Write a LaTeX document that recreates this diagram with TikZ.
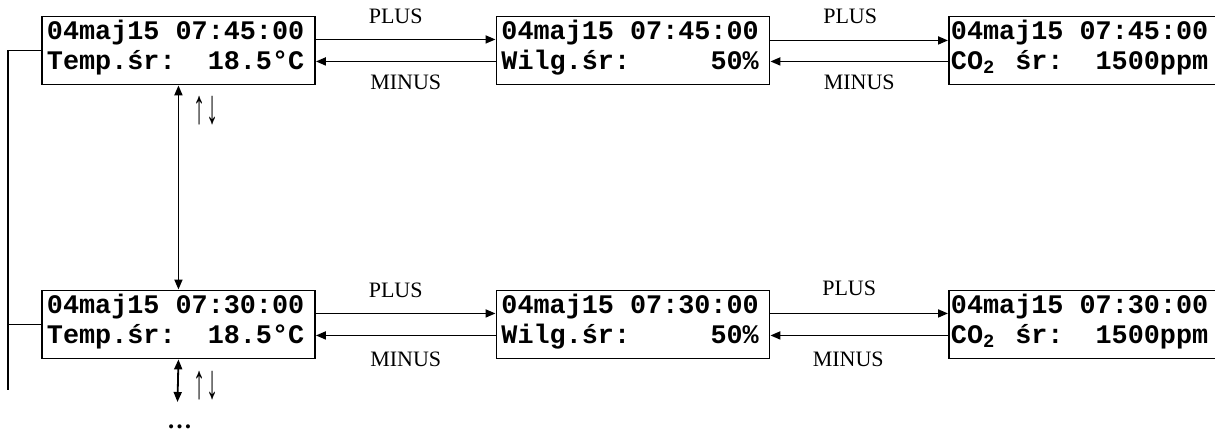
\documentclass[tikz,border=0pt]{standalone}
\usepackage{fontspec}
\usepackage{graphicx}
\setmainfont{Liberation Serif}
\newfontfamily\lcdfont{Liberation Mono}
\newcommand\lcdsp{\hspace*{16.08pt}}
\usetikzlibrary{arrows.meta}
\begin{document}
\begin{tikzpicture}[x=1pt,y=-1pt,
  lcd/.style={draw, line width=1.9pt, anchor=north west, inner xsep=5pt, inner ysep=0pt,
    text width=263pt, align=left, text height=23pt, text depth=45pt,
    font=\lcdfont\bfseries\fontsize{26.8pt}{30pt}\selectfont},
  conn/.style={line width=1.8pt, -{Triangle[length=10pt,width=8pt]}},
  dbl/.style={line width=1.8pt, {Triangle[length=10pt,width=8pt]}-{Triangle[length=10pt,width=8pt]}},
  lbl/.style={font=\fontsize{22pt}{26pt}\selectfont, inner sep=0pt},
  thin/.style={line width=1.5pt},
]
\useasboundingbox (0,0) rectangle (1215,431);
% row 1
\node[lcd] (b1) at (41,15.5) {04maj15\lcdsp07:45:00\\Temp.śr:\lcdsp\lcdsp18.5°C};
\node[lcd] (b2) at (495.5,15.5) {04maj15\lcdsp07:45:00\\Wilg.śr:\lcdsp\lcdsp\lcdsp\lcdsp\lcdsp50\%};
\node[lcd, inner xsep=2pt] (b3) at (948,15.5) {04maj15\lcdsp07:45:00\\CO\makebox[16.08pt][l]{\textsubscript{2}}\lcdsp śr:\lcdsp\lcdsp1500ppm};
% row 2
\node[lcd] (b4) at (41,289.5) {04maj15\lcdsp07:30:00\\Temp.śr:\lcdsp\lcdsp18.5°C};
\node[lcd] (b5) at (495.5,289.5) {04maj15\lcdsp07:30:00\\Wilg.śr:\lcdsp\lcdsp\lcdsp\lcdsp\lcdsp50\%};
\node[lcd, inner xsep=2pt] (b6) at (948,289.5) {04maj15\lcdsp07:30:00\\CO\makebox[16.08pt][l]{\textsubscript{2}}\lcdsp śr:\lcdsp\lcdsp1500ppm};
% horizontal connectors row 1
\draw[conn] ([yshift=11pt]b1.east) -- ([yshift=11pt]b2.west) node[lbl, midway, xshift=-10pt, yshift=23pt] {PLUS};
\draw[conn] ([yshift=-11pt]b2.west) -- ([yshift=-11pt]b1.east) node[lbl, midway, yshift=-21pt] {MINUS};
\draw[conn] ([yshift=10pt]b2.east) -- ([yshift=10pt]b3.west) node[lbl, midway, xshift=-9pt, yshift=24pt] {PLUS};
\draw[conn] ([yshift=-11pt]b3.west) -- ([yshift=-11pt]b2.east) node[lbl, midway, yshift=-21pt] {MINUS};
% horizontal connectors row 2
\draw[conn] ([yshift=11pt]b4.east) -- ([yshift=11pt]b5.west) node[lbl, midway, xshift=-10pt, yshift=23pt] {PLUS};
\draw[conn] ([yshift=-11pt]b5.west) -- ([yshift=-11pt]b4.east) node[lbl, midway, yshift=-24pt] {MINUS};
\draw[conn] ([yshift=11pt]b5.east) -- ([yshift=11pt]b6.west) node[lbl, midway, xshift=-10pt, yshift=25pt] {PLUS};
\draw[conn] ([yshift=-11pt]b6.west) -- ([yshift=-11pt]b5.east) node[lbl, midway, xshift=-11pt, yshift=-24pt] {MINUS};
% vertical connectors
\draw[dbl] (b1.south) -- (b4.north);
\node[lbl] (ud1) at (206,111) {\scalebox{1.1}[2.2]{↑↓}};
\coordinate (vend) at (177.5,402);
\draw[dbl] (b4.south) -- (vend);
\node[lbl] (ud2) at (206,386) {\scalebox{1.1}[2.2]{↑↓}};
\node[lbl, font=\bfseries\fontsize{25pt}{28pt}\selectfont, anchor=base] (dots) at (179.5,428) {…};
% left bus line
\coordinate (lb) at (8,390);
\draw[thin] (b1.west) -| (lb);
\draw[thin] (b4.west) -- (b4.west -| lb);
\end{tikzpicture}
\end{document}
